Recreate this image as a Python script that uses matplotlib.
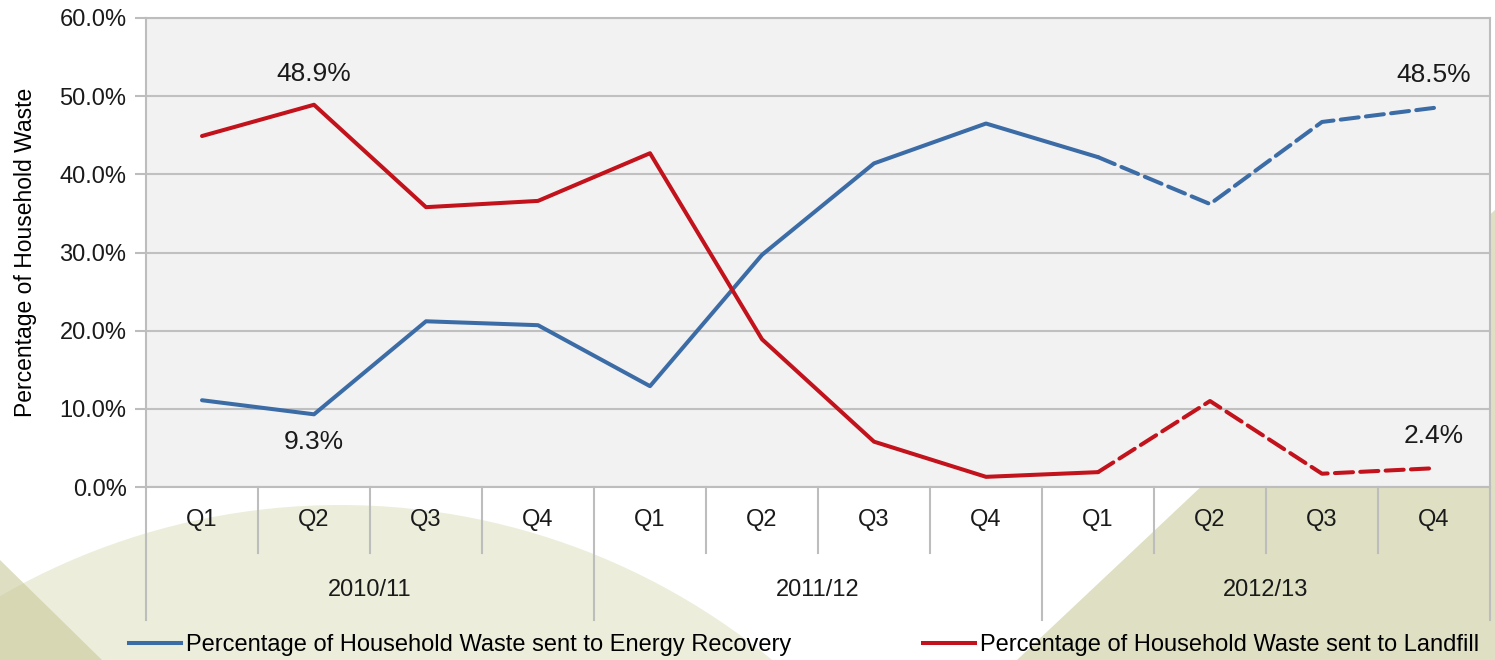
# Household waste: energy recovery vs landfill, quarterly 2010/11 - 2012/13

import numpy as np
from matplotlib import pyplot as plt
from matplotlib import patches
from matplotlib.lines import Line2D
from matplotlib.ticker import FuncFormatter

plt.rcParams['font.family'] = ['Liberation Sans', 'DejaVu Sans']

# data
years    = ['2010/11', '2011/12', '2012/13']
quarters = ['Q1', 'Q2', 'Q3', 'Q4'] * 3
energy   = [11.1, 9.3, 21.2, 20.7, 12.9, 29.7, 41.4, 46.5, 42.2, 36.2, 46.7, 48.5]
landfill = [44.9, 48.9, 35.8, 36.6, 42.7, 18.9, 5.8, 1.3, 1.9, 11.0, 1.7, 2.4]
n_actual = 9   # points up to 2012/13 Q1 drawn solid, rest dashed
labels_energy   = {1: -20, 11: 24}    # index: label offset in points
labels_landfill = {1: 22, 11: 23}

blue = '#3c6ca6'
red  = '#c2121b'
txt  = '#1a1a1a'
W, H = 1495, 660

fig = plt.figure(figsize=(W/100, H/100), dpi=100)

# background decoration (pixel coords -> figure fraction)
def fx(px): return px / W
def fy(py): return 1 - py / H

arc = patches.Ellipse((fx(340), fy(1185)), 2*680/W, 2*680/H,
                      transform=fig.transFigure, facecolor='#eceedb',
                      edgecolor='none', zorder=-10)
tri_left = patches.Polygon([(fx(0), fy(560)), (fx(102), fy(660)), (fx(0), fy(660))],
                           closed=True, transform=fig.transFigure,
                           facecolor='#c9c99a', alpha=0.6, edgecolor='none', zorder=-9)
tri_right = patches.Polygon([(fx(1017), fy(660)), (fx(1495), fy(210)), (fx(1495), fy(660))],
                            closed=True, transform=fig.transFigure,
                            facecolor='#dfdfc4', edgecolor='none', zorder=-9)
for p in (arc, tri_left, tri_right):
    fig.add_artist(p)

ax = fig.add_axes([fx(146), fy(487), (1490-146)/W, (487-18)/H])
ax.set_facecolor('#f2f2f2')

x = np.arange(len(energy))
e = np.array(energy)
l = np.array(landfill)
k = n_actual

ax.plot(x[:k], e[:k], color=blue, lw=2.9, solid_capstyle='round', zorder=3)
ax.plot(x[k-1:], e[k-1:], color=blue, lw=2.9, dashes=(4.5, 1.8),
        dash_capstyle='round', zorder=3)
ax.plot(x[:k], l[:k], color=red, lw=2.9, solid_capstyle='round', zorder=3)
ax.plot(x[k-1:], l[k-1:], color=red, lw=2.9, dashes=(4.5, 1.8),
        dash_capstyle='round', zorder=3)

# data labels
for vals, lab in ((energy, labels_energy), (landfill, labels_landfill)):
    for i, dy in lab.items():
        ax.annotate('%.1f%%' % vals[i], (x[i], vals[i]), xytext=(0, dy),
                    textcoords='offset points', ha='center', va='center',
                    fontsize=19, color=txt)

ax.set_xlim(-0.5, len(energy) - 0.5)
ax.set_ylim(0, 60)
ax.set_yticks(np.arange(0, 61, 10))
ax.yaxis.set_major_formatter(FuncFormatter(lambda v, p: '%.1f%%' % v))
ax.grid(axis='y', color='#c0c0c0', lw=1.5)
ax.set_axisbelow(True)
for s in ax.spines.values():
    s.set_color('#bdbdbd')
    s.set_linewidth(1.5)
ax.tick_params(axis='y', length=8, width=1.5, color='#bdbdbd',
               labelsize=17, labelcolor=txt, pad=6)
ax.set_xticks([])
ax.set_ylabel('Percentage of Household Waste', fontsize=16.5, labelpad=16)

# two-level category axis
trans = ax.get_xaxis_transform()
for i, q in enumerate(quarters):
    ax.text(x[i], -0.07, q, transform=trans, ha='center', va='center',
            fontsize=17, color=txt)
for j, yr in enumerate(years):
    ax.text(4*j + 1.5, -0.22, yr, transform=trans, ha='center', va='center',
            fontsize=17, color=txt)
for b in np.arange(-0.5, len(energy), 1.0):
    low = -0.284 if (b + 0.5) % 4 == 0 else -0.141
    ax.plot([b, b], [0, low], transform=trans, color='#bdbdbd', lw=1.5,
            clip_on=False)

# legend
handles = [Line2D([], [], color=blue, lw=2.9),
           Line2D([], [], color=red, lw=2.9)]
fig.legend(handles, ['Percentage of Household Waste sent to Energy Recovery',
                     'Percentage of Household Waste sent to Landfill'],
           loc='center', bbox_to_anchor=(0.538, fy(645)), ncol=2, frameon=False,
           fontsize=17, handlelength=2.2, handletextpad=0.2, columnspacing=5.6,
           borderpad=0, borderaxespad=0)

fig.savefig('out.png', dpi=100)
